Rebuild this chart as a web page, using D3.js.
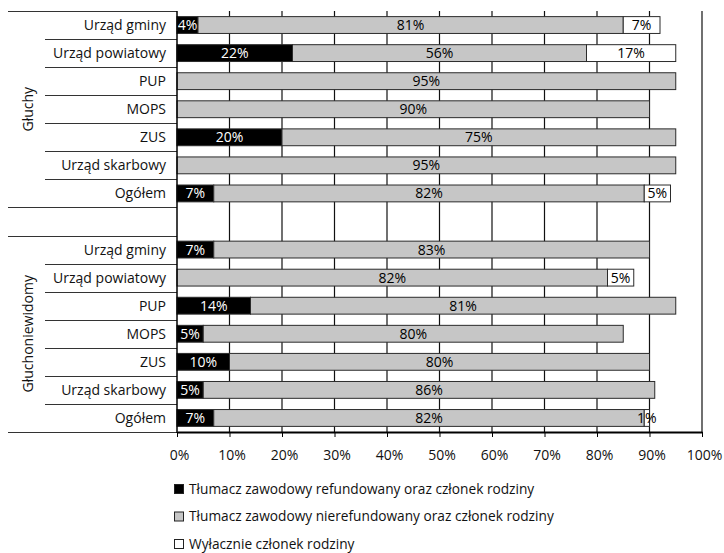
<!DOCTYPE html>
<html lang="pl">
<head>
<meta charset="utf-8">
<script src="https://cdn.jsdelivr.net/npm/d3@7"></script>
<style>
  html, body { margin: 0; padding: 0; background: #fff; }
  svg { display: block; font-family: "Open Sans", "Noto Sans", sans-serif; }
</style>
</head>
<body>
<svg id="chart" width="724" height="553"></svg>
<script>
// Respondent groups and institutions (rows of each group, top to bottom)
const groups = ["Głuchy", "Głuchoniewidomy"];
const institutions = ["Urząd gminy", "Urząd powiatowy", "PUP", "MOPS", "ZUS", "Urząd skarbowy", "Ogółem"];

// Shares in % per series, one array per group, in institution order
const refundGluchy      = [4, 22, 0, 0, 20, 0, 7];
const nierefundGluchy   = [81, 56, 95, 90, 75, 95, 82];
const rodzinaGluchy     = [7, 17, 0, 0, 0, 0, 5];

const refundGN          = [7, 0, 14, 5, 10, 5, 7];
const nierefundGN       = [83, 82, 81, 80, 80, 86, 82];
const rodzinaGN         = [0, 5, 0, 0, 0, 0, 1];

const seriesNames = [
  "Tłumacz zawodowy refundowany oraz członek rodziny",
  "Tłumacz zawodowy nierefundowany oraz członek rodziny",
  "Wyłacznie członek rodziny"
];
const seriesColors = ["#000000", "#c6c6c6", "#ffffff"];
const labelColors = ["#ffffff", "#000000", "#000000"];

const xTicks = [0, 10, 20, 30, 40, 50, 60, 70, 80, 90, 100];

// ---- build rows: group 1, an empty spacer row, group 2 ----
const groupValues = [
  [refundGluchy, nierefundGluchy, rodzinaGluchy],
  [refundGN, nierefundGN, rodzinaGN]
];
const rows = [];
groups.forEach((g, gi) => {
  if (gi > 0) rows.push({ key: "gap-" + gi, group: null, name: "", values: [0, 0, 0] });
  institutions.forEach((inst, i) => {
    rows.push({
      key: g + "|" + inst,
      group: g,
      name: inst,
      values: groupValues[gi].map(s => s[i])
    });
  });
});

const svg = d3.select("#chart");

const x = d3.scaleLinear().domain([0, 100]).range([177, 702]);
const y = d3.scaleBand().domain(rows.map(r => r.key)).range([11, 432]).padding(0);
const rowH = y.bandwidth();
const barPad = 0.2;

// vertical gridlines
svg.append("g")
  .selectAll("line")
  .data(xTicks.filter(t => t > 0))
  .join("line")
  .attr("x1", d => x(d)).attr("x2", d => x(d))
  .attr("y1", 11).attr("y2", 432)
  .attr("stroke", "#111").attr("stroke-width", 1.2);

// stacked segments
const segs = [];
rows.forEach(r => {
  let acc = 0;
  r.values.forEach((v, si) => {
    if (v > 0) segs.push({ row: r, si, x0: acc, x1: acc + v, v });
    acc += v;
  });
});

const barG = svg.append("g");
barG.selectAll("rect")
  .data(segs)
  .join("rect")
  .attr("x", d => x(d.x0))
  .attr("width", d => x(d.x1) - x(d.x0))
  .attr("y", d => y(d.row.key) + rowH * barPad)
  .attr("height", rowH * (1 - 2 * barPad))
  .attr("fill", d => seriesColors[d.si])
  .attr("stroke", "#2b2b2b")
  .attr("stroke-width", 1);

barG.selectAll("text")
  .data(segs)
  .join("text")
  .attr("x", d => x((d.x0 + d.x1) / 2))
  .attr("y", d => y(d.row.key) + rowH / 2)
  .attr("dy", "0.36em")
  .attr("text-anchor", "middle")
  .attr("font-size", 14)
  .attr("fill", d => labelColors[d.si])
  .text(d => d.v + "%");

// category axis: separators, labels, group labels
const catG = svg.append("g");
const boundaries = [];
rows.forEach((r, i) => {
  const top = y(r.key);
  const prev = rows[i - 1];
  const isGroupEdge = i === 0 || !prev || prev.group !== r.group;
  boundaries.push({ y: top, outer: isGroupEdge });
});
boundaries.push({ y: y.range()[1], outer: true });

catG.selectAll("line.sep")
  .data(boundaries)
  .join("line")
  .attr("class", "sep")
  .attr("x1", d => d.outer ? 8 : 45)
  .attr("x2", 177)
  .attr("y1", d => Math.round(d.y) + 0.5)
  .attr("y2", d => Math.round(d.y) + 0.5)
  .attr("stroke", "#333").attr("stroke-width", 1.2);

catG.selectAll("text.cat")
  .data(rows.filter(r => r.group))
  .join("text")
  .attr("class", "cat")
  .attr("x", 166)
  .attr("y", r => y(r.key) + rowH / 2)
  .attr("dy", "0.36em")
  .attr("text-anchor", "end")
  .attr("font-size", 14)
  .attr("fill", "#111")
  .text(r => r.name);

catG.selectAll("text.grp")
  .data(groups)
  .join("text")
  .attr("class", "grp")
  .attr("transform", g => {
    const gr = rows.filter(r => r.group === g);
    const mid = (y(gr[0].key) + y(gr[gr.length - 1].key) + rowH) / 2;
    return `translate(28,${mid}) rotate(-90)`;
  })
  .attr("dy", "0.36em")
  .attr("text-anchor", "middle")
  .attr("font-size", 14)
  .attr("fill", "#111")
  .text(g => g);

// left axis line
svg.append("line")
  .attr("x1", 177).attr("x2", 177)
  .attr("y1", 11).attr("y2", 433)
  .attr("stroke", "#000").attr("stroke-width", 1.5);

// value axis
const xAxis = d3.axisBottom(x)
  .tickValues(xTicks)
  .tickFormat(d => d + "%")
  .tickSize(5)
  .tickSizeOuter(0)
  .tickPadding(13);

const axG = svg.append("g")
  .attr("transform", "translate(0,432)")
  .call(xAxis);
axG.select(".domain").attr("stroke", "#000").attr("stroke-width", 2);
axG.selectAll(".tick line").attr("stroke", "#000").attr("stroke-width", 1);
axG.selectAll(".tick text")
  .attr("font-size", 14)
  .attr("font-family", "\"Open Sans\", \"Noto Sans\", sans-serif")
  .attr("fill", "#111")
  .attr("x", 2);

// legend
const legend = svg.append("g")
  .selectAll("g")
  .data(seriesNames)
  .join("g")
  .attr("transform", (d, i) => `translate(174,${489 + i * 27.5})`);

legend.append("rect")
  .attr("x", 0.5).attr("y", -4.5)
  .attr("width", 9).attr("height", 9)
  .attr("fill", (d, i) => seriesColors[i])
  .attr("stroke", "#222").attr("stroke-width", 1);

legend.append("text")
  .attr("x", 15)
  .attr("y", 0)
  .attr("dy", "0.36em")
  .attr("font-size", 13.7)
  .attr("fill", "#111")
  .text(d => d);
</script>
</body>
</html>
